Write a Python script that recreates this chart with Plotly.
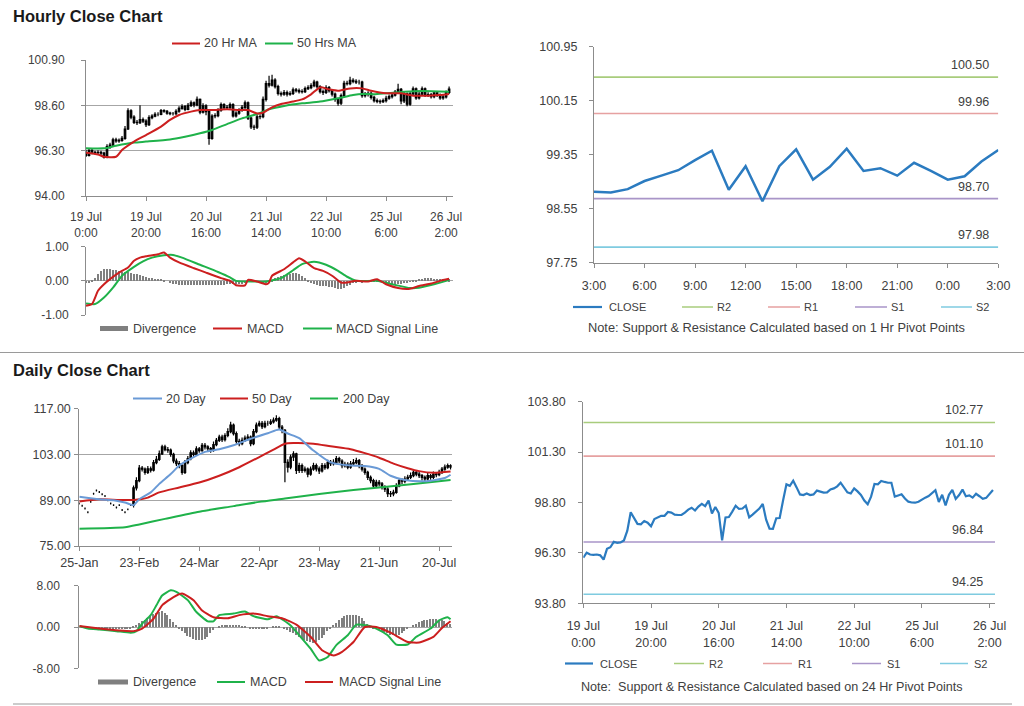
import plotly.graph_objects as go

W, H = 1024, 706
FONT = "Liberation Sans, Arial, sans-serif"
TXT = "#404040"
AX = "#8c8c8c"
GRID = "#a6a6a6"


def fx(p):
    return p / W


def fy(p):
    return 1 - p / H


# ---------------- data: hourly ----------------
hourly_tick_pos = [0, 20, 40, 60, 80, 100, 120]
hourly_tick_text = ["19 Jul<br>0:00", "19 Jul<br>20:00", "20 Jul<br>16:00", "21 Jul<br>14:00",
                    "22 Jul<br>10:00", "25 Jul<br>6:00", "26 Jul<br>2:00"]

hourly_close = [96.06, 96.31, 96.22, 96.20, 96.22, 96.18, 95.97, 96.50, 96.58, 96.85,
                96.80, 96.82, 96.92, 97.40, 98.32, 98.00, 97.74, 97.72, 97.88, 97.80,
                97.62, 97.98, 98.05, 98.14, 98.14, 98.33, 98.30, 98.20, 98.18, 98.18,
                98.30, 98.45, 98.54, 98.40, 98.60, 98.73, 98.62, 98.90, 98.26, 98.58,
                98.28, 96.92, 98.06, 98.08, 98.35, 98.64, 98.48, 98.50, 98.64, 98.06,
                98.20, 98.35, 98.50, 98.73, 97.95, 97.50, 97.49, 98.02, 98.03, 98.90,
                99.70, 99.63, 99.88, 99.55, 99.20, 99.17, 99.25, 99.17, 99.20, 99.39,
                99.35, 99.29, 99.30, 99.45, 99.50, 99.60, 99.78, 99.55, 99.30, 99.25,
                99.50, 99.35, 99.17, 98.90, 98.71, 99.09, 99.72, 99.70, 99.87, 99.82,
                99.78, 99.78, 99.09, 99.15, 99.21, 99.00, 98.84, 98.80, 98.79, 98.84,
                98.96, 99.04, 99.12, 99.27, 99.41, 98.83, 99.18, 98.66, 99.18, 99.43,
                98.98, 99.17, 99.44, 99.11, 99.15, 99.04, 99.23, 99.11, 98.98, 99.03,
                99.25, 99.42]
hourly_open = [96.20, 96.06, 96.31, 96.22, 96.20, 96.22, 96.18, 95.97, 96.50, 96.58,
               96.85, 96.80, 96.82, 96.92, 97.40, 98.32, 98.00, 97.74, 97.72, 97.88,
               97.80, 97.62, 97.98, 98.05, 98.14, 98.14, 98.33, 98.30, 98.20, 98.18,
               98.18, 98.30, 98.45, 98.54, 98.40, 98.60, 98.73, 98.62, 98.90, 98.26,
               98.58, 98.28, 96.92, 98.06, 98.08, 98.35, 98.64, 98.48, 98.50, 98.64,
               98.06, 98.20, 98.35, 98.50, 98.73, 97.95, 97.50, 97.49, 98.02, 98.03,
               98.90, 99.70, 99.63, 99.88, 99.55, 99.20, 99.17, 99.25, 99.17, 99.20,
               99.39, 99.35, 99.29, 99.30, 99.45, 99.50, 99.60, 99.78, 99.55, 99.30,
               99.25, 99.50, 99.35, 99.17, 98.90, 98.71, 99.09, 99.72, 99.70, 99.87,
               99.82, 99.78, 99.78, 99.09, 99.15, 99.21, 99.00, 98.84, 98.80, 98.79,
               98.84, 98.96, 99.04, 99.12, 99.27, 99.41, 98.83, 99.18, 98.66, 99.18,
               99.43, 98.98, 99.17, 99.44, 99.11, 99.15, 99.04, 99.23, 99.11, 98.98,
               99.03, 99.25]
hourly_high = [96.35, 96.38, 96.40, 96.30, 96.32, 96.30, 96.25, 96.62, 96.70, 96.95,
               96.95, 96.92, 97.05, 97.55, 98.45, 98.40, 98.10, 97.85, 98.60, 97.98,
               97.90, 98.10, 98.15, 98.25, 98.25, 98.42, 98.40, 98.36, 98.28, 98.26,
               98.40, 98.55, 98.65, 98.62, 98.72, 98.85, 98.80, 99.05, 98.95, 98.70,
               98.65, 98.35, 98.15, 98.20, 98.45, 98.75, 98.70, 98.62, 98.75, 98.70,
               98.30, 98.45, 98.62, 98.85, 98.80, 98.02, 97.62, 98.12, 98.15, 99.05,
               99.85, 100.10, 100.15, 99.98, 99.65, 99.30, 99.38, 99.35, 99.32, 99.50,
               99.48, 99.45, 99.42, 99.55, 99.62, 99.72, 99.90, 99.85, 99.62, 99.40,
               99.62, 99.58, 99.42, 99.25, 98.98, 99.20, 99.85, 99.85, 100.05, 99.98,
               99.92, 99.90, 99.85, 99.28, 99.32, 99.30, 99.08, 98.95, 98.90, 98.95,
               99.08, 99.15, 99.25, 99.38, 99.70, 99.48, 99.30, 99.25, 99.30, 99.55,
               99.50, 99.28, 99.55, 99.50, 99.26, 99.22, 99.33, 99.30, 99.20, 99.14,
               99.35, 99.55]
hourly_low = [95.98, 96.00, 96.12, 96.10, 96.10, 96.05, 95.90, 95.92, 96.40, 96.50,
              96.70, 96.70, 96.75, 96.85, 97.35, 97.90, 97.65, 97.60, 97.65, 97.70,
              97.50, 97.55, 97.90, 98.00, 98.05, 98.10, 98.22, 98.12, 98.10, 98.08,
              98.10, 98.22, 98.38, 98.30, 98.35, 98.52, 98.50, 98.55, 98.15, 98.18,
              98.10, 96.60, 96.85, 97.95, 98.00, 98.28, 98.38, 98.40, 98.42, 97.98,
              97.98, 98.12, 98.28, 98.42, 97.85, 97.40, 97.35, 97.40, 97.90, 97.95,
              98.80, 99.50, 99.55, 99.45, 99.10, 99.05, 99.08, 99.05, 99.08, 99.12,
              99.25, 99.20, 99.20, 99.22, 99.38, 99.42, 99.52, 99.45, 99.20, 99.12,
              99.18, 99.25, 99.05, 98.78, 98.58, 98.62, 99.00, 99.60, 99.62, 99.72,
              99.68, 99.66, 98.98, 99.00, 99.05, 98.90, 98.75, 98.70, 98.68, 98.72,
              98.75, 98.88, 98.95, 99.05, 99.20, 98.65, 98.72, 98.55, 98.58, 99.10,
              98.88, 98.90, 99.10, 99.02, 99.02, 98.95, 98.96, 99.02, 98.88, 98.88,
              98.95, 99.18]

ma20_h_x = [0, 4, 6, 10, 12, 16, 20, 25, 28, 31, 35, 38, 42, 47, 51, 54, 57, 59, 62, 65,
            69, 72, 75, 78, 81, 84, 88, 92, 95, 100, 105, 109, 114, 118, 121]
ma20_h_y = [96.20, 96.11, 95.99, 95.99, 96.33, 96.76, 97.09, 97.52, 97.86, 98.11, 98.28, 98.36,
            98.36, 98.40, 98.36, 98.36, 98.19, 98.23, 98.50, 98.67, 98.79, 98.90, 99.16, 99.51,
            99.41, 99.34, 99.46, 99.46, 99.34, 99.21, 99.21, 99.09, 99.09, 99.12, 99.18]
ma50_h_x = [0, 6, 10, 16, 20, 28, 33, 38, 42, 47, 52, 57, 61, 66, 72, 78, 84, 89, 92, 96,
            100, 106, 112, 121]
ma50_h_y = [96.42, 96.42, 96.55, 96.71, 96.76, 96.87, 97.01, 97.18, 97.35, 97.65, 97.94, 98.16,
            98.40, 98.57, 98.70, 98.79, 98.96, 99.12, 99.18, 99.16, 99.21, 99.29, 99.33, 99.29]

macd_h_x = [0, 2, 4, 6, 8, 11, 14, 16, 18, 20, 24, 26, 28, 31, 36, 40, 45, 48, 50, 53, 54, 57,
            60, 61, 62, 66, 69, 71, 73, 76, 79, 82, 85, 87, 90, 94, 97, 100, 104, 108, 111, 115,
            118, 121]
macd_h_y = [-0.73, -0.68, -0.29, -0.10, 0.05, 0.24, 0.39, 0.59, 0.68, 0.72, 0.78, 0.83, 0.68,
            0.54, 0.37, 0.24, 0.08, 0.00, -0.13, -0.13, 0.03, -0.02, -0.10, -0.05, 0.15, 0.34,
            0.54, 0.66, 0.57, 0.37, 0.29, 0.15, -0.05, -0.05, 0.00, -0.02, 0.05, -0.10, -0.21,
            -0.23, -0.15, -0.08, 0.00, 0.06]
signal_h_x = [0, 3, 6, 9, 12, 16, 19, 22, 26, 29, 32, 38, 44, 48, 50, 56, 60, 65, 69, 72, 76,
              80, 84, 87, 90, 97, 102, 108, 111, 116, 120, 121]
signal_h_y = [-0.66, -0.68, -0.49, -0.20, 0.15, 0.41, 0.57, 0.68, 0.75, 0.76, 0.68, 0.47, 0.26,
              0.10, 0.00, -0.02, -0.02, 0.08, 0.31, 0.49, 0.56, 0.47, 0.29, 0.12, 0.00, 0.00,
              -0.10, -0.21, -0.20, -0.10, 0.00, 0.03]
divergence_h = [-0.06, -0.03, 0.02, 0.10, 0.20, 0.30, 0.36, 0.37, 0.36, 0.34,
                0.32, 0.30, 0.28, 0.26, 0.26, 0.24, 0.22, 0.20, 0.17, 0.14,
                0.11, 0.09, 0.08, 0.07, 0.06, 0.07, 0.04, 0.00, -0.04, -0.07,
                -0.09, -0.10, -0.11, -0.12, -0.12, -0.12, -0.11, -0.11, -0.11, -0.10,
                -0.10, -0.12, -0.12, -0.11, -0.10, -0.10, -0.10, -0.09, -0.08, -0.08,
                -0.09, -0.09, -0.07, -0.05, 0.00, 0.01, 0.00, -0.02, -0.04, -0.05,
                -0.03, 0.00, 0.04, 0.08, 0.12, 0.15, 0.18, 0.20, 0.22, 0.23,
                0.24, 0.22, 0.15, 0.08, 0.02, -0.03, -0.08, -0.12, -0.13, -0.14,
                -0.15, -0.16, -0.18, -0.21, -0.24, -0.24, -0.20, -0.15, -0.10, -0.06,
                -0.03, -0.01, -0.03, -0.02, 0.01, 0.03, 0.04, 0.02, -0.01, -0.03,
                -0.05, -0.07, -0.09, -0.10, -0.09, -0.07, -0.05, -0.03, -0.01, 0.02,
                0.04, 0.06, 0.07, 0.08, 0.08, 0.08, 0.07, 0.07, 0.06, 0.06,
                0.07, 0.05]

# 1-hour pivot panel (last 25 hourly closes)
pivot1_hours = ["3:00", "6:00", "9:00", "12:00", "15:00", "18:00", "21:00", "0:00", "3:00"]
pivot1_levels = {"R2": 100.50, "R1": 99.96, "S1": 98.70, "S2": 97.98}
# 24-hour pivot panel
pivot24_levels = {"R2": 102.77, "R1": 101.10, "S1": 96.84, "S2": 94.25}

# ---------------- data: daily ----------------
daily_tick_pos = [0, 21, 42, 63, 84, 105, 126]
daily_tick_text = ["25-Jan", "23-Feb", "24-Mar", "22-Apr", "23-May", "21-Jun", "20-Jul"]

daily_close = [88.0, 87.3, 86.5, 85.3, 88.5, 91.0, 92.0, 91.5, 90.8, 90.3,
               89.0, 88.0, 87.5, 86.8, 87.5, 86.0, 85.3, 86.2, 87.5, 92.8,
               95.0, 98.8, 98.5, 97.5, 98.6, 98.2, 100.5, 101.5, 103.2, 105.3,
               104.5, 104.3, 103.0, 101.0, 100.2, 99.6, 97.5, 100.5, 101.7, 103.5,
               103.0, 104.7, 104.2, 105.8, 105.3, 104.8, 104.3, 106.0, 107.3, 108.3,
               107.5, 108.8, 110.0, 112.0, 109.4, 107.0, 106.3, 107.3, 108.0, 108.3,
               106.3, 110.0, 112.0, 112.5, 111.5, 112.5, 112.5, 113.0, 113.5, 114.0,
               111.4, 110.4, 100.6, 99.1, 102.2, 103.2, 98.1, 99.6, 98.1, 98.5,
               97.0, 98.5, 99.6, 98.6, 98.0, 99.6, 99.0, 100.6, 100.2, 100.6,
               101.7, 101.0, 99.6, 100.0, 99.1, 100.1, 100.5, 101.1, 99.6, 98.5,
               97.5, 96.0, 95.0, 93.4, 94.5, 94.0, 93.0, 92.4, 91.0, 90.9,
               91.4, 93.4, 95.0, 94.8, 95.5, 96.0, 96.5, 97.5, 97.0, 96.5,
               96.0, 95.5, 96.5, 96.0, 97.0, 96.8, 97.5, 98.5, 99.1, 99.6,
               99.1]
daily_open = [88.0, 87.3, 86.5, 85.3, 88.5, 91.0, 92.0, 91.5, 90.8, 90.3,
              89.0, 88.0, 87.5, 86.8, 87.5, 86.0, 85.3, 86.2, 87.5, 87.5,
              92.8, 95.0, 98.8, 98.5, 97.5, 98.6, 98.2, 100.5, 101.5, 103.2,
              105.3, 104.5, 104.3, 103.0, 101.0, 100.2, 99.6, 97.5, 100.5, 101.7,
              103.5, 103.0, 104.7, 104.2, 105.8, 105.3, 104.8, 104.3, 106.0, 107.3,
              108.3, 107.5, 108.8, 110.0, 112.0, 109.4, 107.0, 106.3, 107.3, 108.0,
              108.3, 106.3, 110.0, 112.0, 112.5, 111.5, 112.5, 112.5, 113.0, 113.5,
              114.0, 111.4, 110.4, 100.6, 99.1, 102.2, 103.2, 98.1, 99.6, 98.1,
              98.5, 97.0, 98.5, 99.6, 98.6, 98.0, 99.6, 99.0, 100.6, 100.2,
              100.6, 101.7, 101.0, 99.6, 100.0, 99.1, 100.1, 100.5, 101.1, 99.6,
              98.5, 97.5, 96.0, 95.0, 93.4, 94.5, 94.0, 93.0, 92.4, 91.0,
              90.9, 91.4, 93.4, 95.0, 94.8, 95.5, 96.0, 96.5, 97.5, 97.0,
              96.5, 96.0, 95.5, 96.5, 96.0, 97.0, 96.8, 97.5, 98.5, 99.1,
              99.6]
daily_high = [88.3, 87.6, 86.8, 85.6, 88.8, 91.3, 92.3, 91.8, 91.1, 90.6,
              89.3, 88.3, 87.8, 87.1, 87.8, 86.3, 85.6, 86.5, 87.8, 93.5,
              96.0, 99.8, 99.5, 99.0, 99.5, 99.3, 101.3, 102.5, 104.2, 106.0,
              106.0, 105.3, 104.8, 103.5, 101.8, 101.0, 100.0, 101.3, 102.5, 104.3,
              104.2, 105.5, 105.3, 106.5, 106.5, 105.8, 105.3, 107.0, 108.0, 109.0,
              109.0, 109.5, 111.0, 113.0, 112.5, 110.0, 107.8, 108.2, 108.8, 109.2,
              108.8, 110.8, 112.8, 113.3, 113.2, 113.3, 113.3, 113.8, 114.3, 115.0,
              114.5, 112.0, 110.8, 101.5, 103.0, 104.0, 103.5, 100.5, 100.2, 99.3,
              99.0, 99.3, 100.5, 100.2, 99.3, 100.4, 100.3, 101.4, 101.3, 101.5,
              102.5, 102.3, 101.5, 100.8, 100.6, 101.0, 101.6, 102.0, 101.6, 100.1,
              99.0, 98.0, 96.6, 95.6, 95.3, 95.2, 94.6, 93.6, 93.0, 91.8,
              92.2, 94.2, 95.8, 95.7, 96.3, 96.8, 97.5, 98.3, 98.2, 97.6,
              97.0, 96.6, 97.3, 97.0, 97.8, 97.6, 98.3, 99.2, 99.9, 100.2,
              100.0]
daily_low = [87.7, 87.0, 86.2, 85.0, 88.2, 90.7, 91.7, 91.2, 90.5, 90.0,
             88.7, 87.7, 87.2, 86.5, 87.2, 85.7, 85.0, 85.9, 87.2, 86.8,
             92.0, 94.5, 97.8, 96.8, 97.0, 97.5, 97.8, 100.0, 101.0, 102.8,
             104.0, 103.5, 102.3, 100.3, 99.5, 98.8, 96.8, 97.0, 100.0, 101.2,
             102.3, 102.5, 103.5, 103.8, 104.5, 104.0, 103.5, 103.8, 105.5, 106.8,
             106.8, 107.0, 108.3, 109.5, 108.8, 106.3, 105.5, 105.8, 106.8, 107.3,
             105.5, 105.8, 109.5, 111.5, 110.8, 111.0, 111.8, 112.0, 112.5, 113.0,
             110.8, 109.5, 94.5, 97.5, 98.5, 101.0, 97.0, 97.3, 97.3, 97.5,
             96.0, 96.5, 98.0, 97.8, 97.0, 97.5, 98.3, 98.5, 99.5, 99.6,
             100.0, 100.3, 98.8, 99.0, 98.5, 98.6, 99.6, 100.0, 98.8, 97.8,
             96.8, 95.2, 94.2, 92.6, 92.8, 93.2, 92.3, 91.5, 90.0, 90.0,
             90.2, 91.0, 93.0, 94.0, 94.2, 95.0, 95.5, 96.0, 96.3, 95.8,
             95.0, 94.5, 95.0, 95.3, 95.5, 96.0, 96.3, 97.0, 98.0, 98.6,
             98.4]

ma20_d_x = [0, 7, 12, 16, 19, 21, 25, 28, 32, 35, 39, 44, 49, 54, 60, 66, 70, 73, 77, 82, 88,
            95, 100, 105, 109, 114, 121, 128, 130]
ma20_d_y = [90.1, 89.3, 89.0, 88.3, 87.5, 89.3, 91.4, 94.0, 97.0, 99.6, 101.7, 103.8, 104.6,
            105.8, 107.8, 109.5, 110.6, 109.4, 108.0, 104.2, 100.6, 99.6, 99.5, 98.6, 96.5,
            95.2, 94.8, 95.8, 96.8]
ma50_d_x = [0, 7, 14, 19, 24, 28, 35, 42, 49, 56, 63, 68, 72, 75, 82, 88, 95, 100, 105, 110,
            115, 119, 124, 130]
ma50_d_y = [88.6, 89.3, 89.1, 89.1, 89.8, 91.4, 92.9, 94.4, 96.5, 99.1, 102.2, 104.5, 106.3,
            106.5, 106.3, 105.5, 104.6, 103.4, 102.0, 100.2, 98.8, 97.9, 97.4, 97.8]
ma200_d_x = [0, 16, 21, 30, 42, 54, 63, 72, 84, 96, 105, 117, 130]
ma200_d_y = [80.3, 80.75, 81.6, 83.3, 85.5, 87.2, 88.5, 89.5, 90.9, 92.1, 92.9, 94.0, 95.2]

macd_d_x = [0, 3, 7, 13, 18, 20, 22, 25, 27, 29, 32, 34, 38, 41, 45, 47, 49, 54, 58, 61, 66,
            69, 74, 77, 81, 84, 87, 90, 94, 97, 101, 104, 108, 111, 115, 118, 123, 126, 129, 130]
macd_d_y = [0.2, -0.3, -0.5, -0.8, -1.1, -0.8, 0.65, 2.3, 4.2, 6.1, 7.1, 6.8, 5.2, 2.9, 1.1,
            1.1, 2.3, 2.6, 3.0, 2.1, 1.5, 2.1, 0.3, -1.6, -4.2, -6.5, -5.8, -3.5, -1.6, 0.45,
            0.3, -0.3, -1.6, -3.4, -3.4, -1.9, -0.3, 1.3, 1.9, 1.5]
signal_d_x = [0, 7, 14, 19, 22, 26, 29, 33, 36, 40, 43, 47, 52, 56, 61, 66, 71, 76, 81, 85,
              89, 92, 96, 100, 104, 109, 115, 119, 124, 127, 130]
signal_d_y = [0.2, -0.3, -0.7, -0.8, -0.3, 1.6, 4.2, 5.8, 6.5, 5.2, 3.2, 1.9, 1.7, 2.3, 2.6,
              2.1, 1.7, 0.45, -1.9, -4.5, -5.5, -4.8, -2.9, 0.0, 0.0, -1.1, -2.9, -3.0, -1.9,
              -0.2, 1.1]
divergence_d = [0.0, -0.05, -0.1, -0.1, -0.15, -0.2, -0.2, -0.2, -0.25, -0.25,
                -0.3, -0.3, -0.3, -0.3, -0.35, -0.35, -0.35, -0.3, -0.2, 0.1,
                0.5, 0.9, 1.2, 1.5, 1.8, 2.1, 2.5, 2.8, 3.0, 3.1,
                2.8, 2.3, 1.7, 1.0, 0.4, -0.3, -0.8, -1.2, -1.6, -1.9,
                -2.2, -2.4, -2.5, -2.4, -2.2, -1.8, -1.2, -0.6, 0.0, 0.3,
                0.4, 0.5, 0.5, 0.4, 0.5, 0.4, 0.4, 0.3, 0.2, 0.0,
                -0.2, -0.3, -0.3, -0.4, -0.4, -0.3, -0.2, 0.0, 0.1, 0.2,
                0.2, 0.0, -0.3, -0.6, -0.9, -1.2, -1.5, -1.8, -2.1, -2.4,
                -2.6, -2.8, -3.0, -2.9, -2.5, -2.0, -1.4, -0.8, -0.2, 0.4,
                0.9, 1.4, 1.8, 2.1, 2.3, 2.3, 2.3, 2.3, 2.2, 1.8,
                1.2, 0.6, 0.2, -0.2, -0.4, -0.6, -0.8, -1.0, -1.2, -1.4,
                -1.5, -1.5, -1.4, -1.1, -0.8, -0.4, 0.0, 0.4, 0.7, 1.0,
                1.2, 1.4, 1.5, 1.6, 1.6, 1.6, 1.5, 1.4, 1.2, 0.9,
                0.6]

for arr in (hourly_open, hourly_high, hourly_low, divergence_h):
    assert len(arr) == len(hourly_close), len(arr)
for arr in (daily_open, daily_high, daily_low, divergence_d):
    assert len(arr) == len(daily_close), len(arr)

hourly_idx = list(range(len(hourly_close)))
daily_idx = list(range(len(daily_close)))
pivot1_close = hourly_close[-25:]
pivot1_idx = list(range(len(pivot1_close)))

# ---------------- colours ----------------
RED = "#cc1f1f"
GREEN = "#1fb24a"
BLUE20 = "#6a9ad6"
CLOSE_BLUE = "#2b7bc0"
DIV_GRAY = "#7f7f7f"
LEVEL_COL = {"R2": "#a8cc7c", "R1": "#e6a1a1", "S1": "#a995c8", "S2": "#7fcbe0"}

fig = go.Figure()

candle_style = dict(
    increasing=dict(line=dict(color="black", width=1.2), fillcolor="black"),
    decreasing=dict(line=dict(color="black", width=1.2), fillcolor="black"),
    whiskerwidth=0, showlegend=False, hoverinfo="skip",
)

# Panel 1: hourly candles
fig.add_trace(go.Candlestick(x=hourly_idx, open=hourly_open, high=hourly_high, low=hourly_low,
                             close=hourly_close, xaxis="x", yaxis="y", **candle_style))
fig.add_trace(go.Scatter(x=ma50_h_x, y=ma50_h_y, mode="lines", xaxis="x", yaxis="y",
                         line=dict(color=GREEN, width=2, shape="spline", smoothing=0.6), showlegend=False))
fig.add_trace(go.Scatter(x=ma20_h_x, y=ma20_h_y, mode="lines", xaxis="x", yaxis="y",
                         line=dict(color=RED, width=2, shape="spline", smoothing=0.6), showlegend=False))

# Panel 2: hourly MACD
fig.add_trace(go.Bar(x=hourly_idx, y=divergence_h, width=0.45, marker=dict(color=DIV_GRAY, line=dict(width=0)),
                     xaxis="x2", yaxis="y2", showlegend=False))
fig.add_trace(go.Scatter(x=signal_h_x, y=signal_h_y, mode="lines", xaxis="x2", yaxis="y2",
                         line=dict(color=GREEN, width=2, shape="spline", smoothing=0.5), showlegend=False))
fig.add_trace(go.Scatter(x=macd_h_x, y=macd_h_y, mode="lines", xaxis="x2", yaxis="y2",
                         line=dict(color=RED, width=2, shape="spline", smoothing=0.5), showlegend=False))

# Panel 3: 1 hr pivots
for name in ["R2", "R1", "S1", "S2"]:
    lvl = pivot1_levels[name]
    fig.add_trace(go.Scatter(x=[0, 24], y=[lvl, lvl], mode="lines", xaxis="x3", yaxis="y3",
                             line=dict(color=LEVEL_COL[name], width=1.6), showlegend=False))
fig.add_trace(go.Scatter(x=pivot1_idx, y=pivot1_close, mode="lines", xaxis="x3", yaxis="y3",
                         line=dict(color=CLOSE_BLUE, width=2.5), showlegend=False))

# Panel 4: 24 hr pivots
for name in ["R2", "R1", "S1", "S2"]:
    lvl = pivot24_levels[name]
    fig.add_trace(go.Scatter(x=[0, 121.6], y=[lvl, lvl], mode="lines", xaxis="x4", yaxis="y4",
                             line=dict(color=LEVEL_COL[name], width=1.6), showlegend=False))
fig.add_trace(go.Scatter(x=hourly_idx, y=hourly_close, mode="lines", xaxis="x4", yaxis="y4",
                         line=dict(color=CLOSE_BLUE, width=2.2), showlegend=False))

# Panel 5: daily candles
fig.add_trace(go.Candlestick(x=daily_idx, open=daily_open, high=daily_high, low=daily_low,
                             close=daily_close, xaxis="x5", yaxis="y5", **candle_style))
fig.add_trace(go.Scatter(x=ma200_d_x, y=ma200_d_y, mode="lines", xaxis="x5", yaxis="y5",
                         line=dict(color=GREEN, width=2, shape="spline", smoothing=0.6), showlegend=False))
fig.add_trace(go.Scatter(x=ma50_d_x, y=ma50_d_y, mode="lines", xaxis="x5", yaxis="y5",
                         line=dict(color=RED, width=2, shape="spline", smoothing=0.6), showlegend=False))
fig.add_trace(go.Scatter(x=ma20_d_x, y=ma20_d_y, mode="lines", xaxis="x5", yaxis="y5",
                         line=dict(color=BLUE20, width=2, shape="spline", smoothing=0.6), showlegend=False))

# Panel 6: daily MACD
fig.add_trace(go.Bar(x=daily_idx, y=divergence_d, width=0.45, marker=dict(color=DIV_GRAY, line=dict(width=0)),
                     xaxis="x6", yaxis="y6", showlegend=False))
fig.add_trace(go.Scatter(x=macd_d_x, y=macd_d_y, mode="lines", xaxis="x6", yaxis="y6",
                         line=dict(color=GREEN, width=2, shape="spline", smoothing=0.5), showlegend=False))
fig.add_trace(go.Scatter(x=signal_d_x, y=signal_d_y, mode="lines", xaxis="x6", yaxis="y6",
                         line=dict(color=RED, width=2, shape="spline", smoothing=0.5), showlegend=False))

tickfont_s = dict(family=FONT, size=12, color=TXT)
tickfont_l = dict(family=FONT, size=12.5, color=TXT)


def xax(dom, rng, anchor, tickvals=None, ticktext=None, font=tickfont_s, standoff=6, show=True):
    d = dict(domain=[fx(dom[0]), fx(dom[1])], range=rng, anchor=anchor, showgrid=False,
             zeroline=False, fixedrange=True, automargin=False)
    if show:
        d.update(tickmode="array", tickvals=tickvals, ticktext=ticktext, ticks="outside",
                 ticklen=4, tickcolor=AX, showline=True, linecolor=AX, linewidth=1,
                 tickfont=font, ticklabelstandoff=standoff)
    else:
        d.update(showticklabels=False, ticks="", showline=False)
    return d


def yax(dom, rng, anchor, tickvals, grid=True, font=tickfont_s, standoff=8):
    return dict(domain=[fy(dom[1]), fy(dom[0])], range=rng, anchor=anchor, tickmode="array",
                tickvals=tickvals, ticktext=["%.2f" % v for v in tickvals], ticks="outside",
                ticklen=4, tickcolor=AX,
                showline=True, linecolor=AX, linewidth=1, showgrid=grid, gridcolor=GRID,
                gridwidth=1, zeroline=False, tickfont=font, ticklabelstandoff=standoff,
                fixedrange=True, automargin=False)


layout = dict(
    width=W, height=H, margin=dict(l=0, r=0, t=0, b=0, pad=0, autoexpand=False), paper_bgcolor="white",
    plot_bgcolor="rgba(0,0,0,0)", showlegend=False, bargap=0,
    font=dict(family=FONT, color=TXT),
    xaxis=xax((86, 452.7), [0, 122.2], "y", hourly_tick_pos, hourly_tick_text, standoff=6),
    yaxis=yax((60, 196), [94, 100.9], "x", [94, 96.3, 98.6, 100.9], standoff=14),
    xaxis2=xax((86, 452.7), [0, 122.2], "y2", show=False),
    yaxis2=yax((246.7, 315), [-1, 1], "x2", [-1, 0, 1], standoff=10),
    xaxis3=xax((594, 998.3), [0, 24], "y3", list(range(0, 25, 3)), pivot1_hours, font=tickfont_l, standoff=7),
    yaxis3=yax((46.7, 262.7), [97.75, 100.95], "x3", [97.75, 98.55, 99.35, 100.15, 100.95],
               grid=False, font=tickfont_l, standoff=9),
    xaxis4=xax((583.3, 995), [0, 121.6], "y4", hourly_tick_pos, hourly_tick_text, font=tickfont_l, standoff=7),
    yaxis4=yax((401.7, 603.3), [93.8, 103.8], "x4", [93.8, 96.3, 98.8, 101.3, 103.8],
               grid=False, font=tickfont_l, standoff=10),
    xaxis5=xax((79.3, 451.7), [0, 130.4], "y5", daily_tick_pos, daily_tick_text, font=tickfont_l, standoff=1),
    yaxis5=yax((408.7, 546), [75, 117], "x5", [75, 89, 103, 117], font=tickfont_l, standoff=1),
    xaxis6=xax((79.3, 451.7), [0, 130.4], "y6", show=False),
    yaxis6=yax((585.7, 668.3), [-8, 8], "x6", [-8, 0, 8], standoff=12),
)
layout["xaxis"]["rangeslider"] = dict(visible=False)
layout["xaxis5"]["rangeslider"] = dict(visible=False)

shapes = []
annotations = []


def text(x, y, s, size=12.5, anchor="left", bold=False, color=TXT):
    annotations.append(dict(x=fx(x), y=fy(y), xref="paper", yref="paper", text=("<b>%s</b>" % s) if bold else s,
                            showarrow=False, xanchor=anchor, yanchor="middle",
                            font=dict(family=FONT, size=size, color=color)))


def legline(x0, x1, y, color, width=2):
    shapes.append(dict(type="line", xref="paper", yref="paper", x0=fx(x0), x1=fx(x1), y0=fy(y), y1=fy(y),
                       line=dict(color=color, width=width)))


# titles
text(11, 16, "Hourly Close Chart", size=16.5, bold=True, color="#1a1a1a")
text(11, 370, "Daily Close Chart", size=16.5, bold=True, color="#1a1a1a")

# separators
shapes.append(dict(type="line", xref="paper", yref="paper", x0=0, x1=1, y0=fy(352.5), y1=fy(352.5),
                   line=dict(color="#9a9a9a", width=1.2)))
shapes.append(dict(type="line", xref="paper", yref="paper", x0=fx(13), x1=fx(1012), y0=fy(704), y1=fy(704),
                   line=dict(color="#9a9a9a", width=1.2)))

# hourly legends
legline(172, 200, 43.5, RED)
text(202, 43.5, "20 Hr MA")
legline(265, 293, 43.5, GREEN)
text(295, 43.5, "50 Hrs MA")

legline(100, 128, 328.5, DIV_GRAY, 5)
text(131, 328.5, "Divergence")
legline(213, 242, 328.5, RED)
text(245, 328.5, "MACD")
legline(303, 332, 328.5, GREEN)
text(334, 328.5, "MACD Signal Line")

# daily legends
legline(133, 162, 398.5, BLUE20)
text(164, 398.5, "20 Day")
legline(220, 248, 398.5, RED)
text(250, 398.5, "50 Day")
legline(310, 338, 398.5, GREEN)
text(341, 398.5, "200 Day")

legline(98, 128, 682, DIV_GRAY, 5)
text(131, 682, "Divergence")
legline(217, 245, 682, GREEN)
text(248, 682, "MACD")
legline(305, 333, 682, RED)
text(337, 682, "MACD Signal Line")

# pivot legends (top right)
legline(573, 602, 307, CLOSE_BLUE, 2.2)
text(607, 307, "CLOSE", size=11)
for name, (a, b, t) in zip(["R2", "R1", "S1", "S2"],
                           [(682, 713, 715), (768, 800, 802), (855, 887, 889), (941, 972, 974)]):
    legline(a, b, 307, LEVEL_COL[name], 1.5)
    text(t, 307, name, size=11)
text(776, 327, "Note: Support &amp; Resistance Calculated based on 1 Hr Pivot Points", size=12.8, anchor="center")

# pivot legends (bottom right)
legline(565, 593, 663.5, CLOSE_BLUE, 2.2)
text(598, 663.5, "CLOSE", size=11)
for name, (a, b, t) in zip(["R2", "R1", "S1", "S2"],
                           [(674, 704, 707), (763, 792, 796), (852, 881, 885), (940, 968, 972)]):
    legline(a, b, 663.5, LEVEL_COL[name], 1.5)
    text(t, 663.5, name, size=11)
text(772, 687, "Note:  Support &amp; Resistance Calculated based on 24 Hr Pivot Points", size=12.6, anchor="center")

# level value labels
for name, lvl in pivot1_levels.items():
    annotations.append(dict(x=24, y=lvl, xref="x3", yref="y3", text="%.2f" % lvl, showarrow=False,
                            xanchor="right", yanchor="bottom", xshift=-7, yshift=3,
                            font=dict(family=FONT, size=12.5, color=TXT)))
for name, lvl in pivot24_levels.items():
    annotations.append(dict(x=121.6, y=lvl, xref="x4", yref="y4", text="%.2f" % lvl, showarrow=False,
                            xanchor="right", yanchor="bottom", xshift=-10, yshift=3,
                            font=dict(family=FONT, size=12.5, color=TXT)))

layout["shapes"] = shapes
layout["annotations"] = annotations
fig.update_layout(**layout)

fig.write_html("out.html", config={"responsive": False, "displayModeBar": False},
               post_script="document.body.style.margin='0';document.body.style.overflow='hidden';")
